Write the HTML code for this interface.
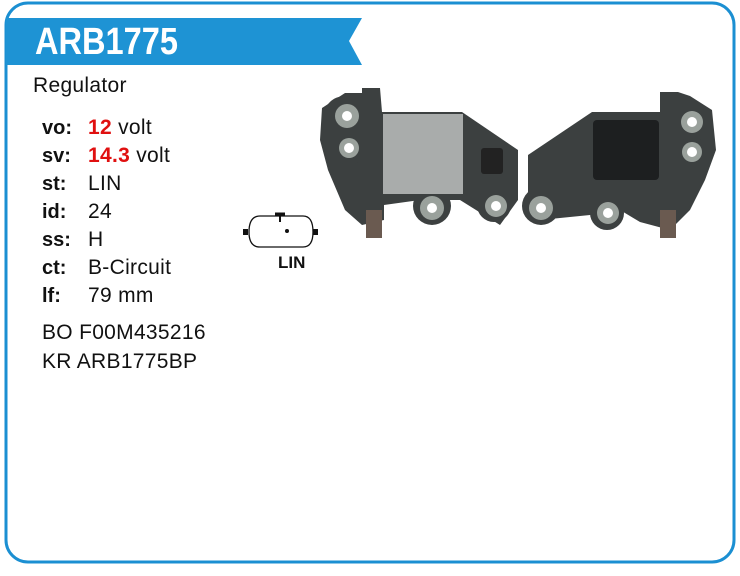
<!DOCTYPE html>
<html><head><meta charset="utf-8"><style>
body{margin:0;background:#fff;width:740px;height:576px;overflow:hidden;font-family:"Liberation Sans",sans-serif;}
.t{position:absolute;font-size:21px;letter-spacing:0.3px;color:#111;}
.k{position:absolute;left:42px;font-size:20px;font-weight:bold;color:#111;}
.v{position:absolute;left:88px;font-size:21px;letter-spacing:0.3px;color:#111;}
.r{color:#e01010;font-weight:bold;}
</style></head><body>
<svg width="740" height="576" style="position:absolute;left:0;top:0">
<rect x="6" y="3" width="728" height="559" rx="22" fill="none" stroke="#1b8fd2" stroke-width="3"/>
<polygon points="6,18 362,18 349,41 362,65 6,65" fill="#1e93d4"/>
<text x="35" y="54" font-family="Liberation Sans" font-weight="bold" font-size="38" fill="#fff" textLength="143" lengthAdjust="spacingAndGlyphs">ARB1775</text>
<g stroke="#111" stroke-width="1.3" fill="none">
<path d="M260,216 H303 Q313,216 313,232 Q313,247 303,247 H260 Q249,247 249,232 Q249,216 260,216 Z" fill="#fff"/>
<line x1="275" y1="214" x2="285" y2="214" stroke-width="3"/>
<line x1="280" y1="214" x2="280" y2="222" stroke-width="2"/>
</g>
<rect x="243" y="229" width="5" height="6" fill="#111"/><rect x="313" y="229" width="5" height="6" fill="#111"/>
<circle cx="287" cy="231" r="2" fill="#111"/>
<text x="278" y="268" font-family="Liberation Sans" font-weight="bold" font-size="17" fill="#111">LIN</text>
<g fill="#3c4040">
<polygon points="322,108 345,93 362,93 362,88 380,88 382,112 462,112 518,150 518,200 500,225 460,200 420,200 384,205 384,220 362,225 345,210 328,170 320,140"/>
<circle cx="345" cy="118" r="22"/><circle cx="349" cy="148" r="17"/>
<circle cx="432" cy="206" r="19"/><circle cx="494" cy="205" r="17"/>
</g>
<rect x="383" y="114" width="80" height="80" fill="#a9acab"/>
<rect x="481" y="148" width="22" height="26" rx="3" fill="#222"/>
<g fill="#9aa19c"><circle cx="347" cy="116" r="12"/><circle cx="349" cy="148" r="10"/><circle cx="432" cy="208" r="12"/><circle cx="496" cy="206" r="11"/></g>
<g fill="#fff"><circle cx="347" cy="116" r="5"/><circle cx="349" cy="148" r="5"/><circle cx="432" cy="208" r="5"/><circle cx="496" cy="206" r="5"/></g>
<rect x="366" y="210" width="16" height="28" fill="#6a5a50"/>
<g fill="#3c4040">
<polygon points="592,112 660,112 660,92 678,92 690,96 712,110 716,150 705,180 690,210 670,230 640,222 620,210 590,215 540,220 528,195 528,155"/>
<circle cx="692" cy="123" r="19"/><circle cx="692" cy="152" r="15"/>
<circle cx="541" cy="206" r="19"/><circle cx="607" cy="213" r="17"/>
</g>
<rect x="593" y="120" width="66" height="60" rx="4" fill="#1d1f20"/>
<g fill="#9aa19c"><circle cx="692" cy="122" r="11"/><circle cx="692" cy="152" r="10"/><circle cx="541" cy="208" r="12"/><circle cx="608" cy="213" r="11"/></g>
<g fill="#fff"><circle cx="692" cy="122" r="5"/><circle cx="692" cy="152" r="5"/><circle cx="541" cy="208" r="5"/><circle cx="608" cy="213" r="5"/></g>
<rect x="660" y="210" width="16" height="28" fill="#6a5a50"/>
</svg>
<div class="t" style="left:33px;top:74px">Regulator</div>
<div class="k" style="top:117px">vo:</div><div class="v" style="top:116px"><span class="r">12</span> volt</div>
<div class="k" style="top:145px">sv:</div><div class="v" style="top:144px"><span class="r">14.3</span> volt</div>
<div class="k" style="top:173px">st:</div><div class="v" style="top:172px">LIN</div>
<div class="k" style="top:201px">id:</div><div class="v" style="top:200px">24</div>
<div class="k" style="top:229px">ss:</div><div class="v" style="top:228px">H</div>
<div class="k" style="top:257px">ct:</div><div class="v" style="top:256px">B-Circuit</div>
<div class="k" style="top:285px">lf:</div><div class="v" style="top:284px">79 mm</div>
<div class="t" style="left:42px;top:321px">BO F00M435216</div>
<div class="t" style="left:42px;top:350px">KR ARB1775BP</div>
</body></html>
